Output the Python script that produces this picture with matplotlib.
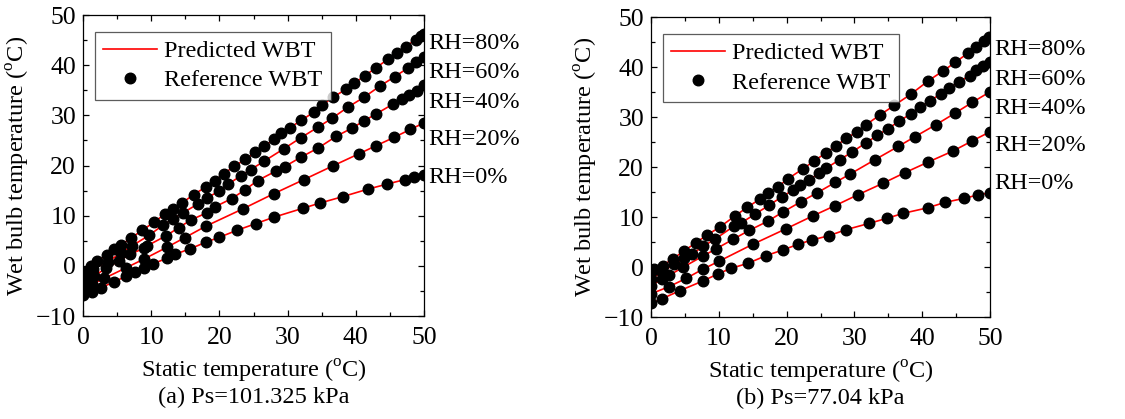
import matplotlib
matplotlib.use("Agg")
import matplotlib.pyplot as plt
from matplotlib.ticker import MultipleLocator
from matplotlib.lines import Line2D

plt.rcParams['font.family'] = ['Liberation Serif', 'DejaVu Serif']
plt.rcParams['mathtext.fontset'] = 'custom'
plt.rcParams['mathtext.rm'] = 'Liberation Serif'

# ---------------- Panel (a): Ps = 101.325 kPa ----------------
a_x80 = [0.0, 1.1, 2.0, 3.5, 4.6, 5.6, 7.1, 8.7, 10.4, 12.0, 13.2, 14.5, 16.2, 18.0, 19.3, 20.6,
         22.2, 23.8, 25.2, 26.6, 28.0, 29.1, 30.3, 32.0, 33.8, 35.1, 36.7, 38.5, 39.8, 41.3, 42.9,
         44.7, 46.1, 47.3, 48.8, 49.6, 50.0]
a_y80 = [-1.3, 0.0, 1.0, 2.1, 3.3, 4.2, 5.6, 7.1, 8.7, 10.3, 11.4, 12.5, 14.2, 15.7, 17.0, 18.3,
         19.9, 21.2, 22.6, 23.9, 25.2, 26.4, 27.5, 29.0, 30.6, 32.1, 33.6, 35.2, 36.4, 37.9, 39.4,
         41.2, 42.5, 43.7, 45.1, 45.8, 46.2]
a_x60 = [0.0, 0.7, 1.5, 3.6, 5.6, 7.2, 9.7, 11.7, 13.2, 14.7, 16.8, 18.2, 20.0, 21.3, 23.1, 24.6,
         26.6, 29.4, 31.9, 34.4, 36.5, 38.8, 41.2, 43.5, 45.7, 47.6, 48.8, 50.0]
a_y60 = [-2.2, -1.2, -0.6, 0.8, 2.6, 4.0, 6.1, 8.1, 9.4, 10.6, 12.3, 13.6, 14.9, 16.3, 17.9, 19.2,
         20.9, 23.3, 25.5, 27.6, 29.4, 31.6, 33.6, 35.8, 37.7, 39.4, 40.6, 41.7]
a_x40 = [0.0, 0.5, 1.6, 3.4, 5.3, 6.9, 8.9, 9.4, 12.2, 14.0, 15.9, 18.2, 19.4, 21.8, 23.7, 25.6,
         28.3, 29.6, 32.0, 34.5, 37.1, 39.5, 41.2, 43.0, 45.4, 46.7, 47.8, 48.9, 50.0]
a_y40 = [-3.6, -3.0, -2.0, -0.5, 1.0, 2.3, 3.5, 4.0, 6.0, 7.6, 9.2, 10.6, 11.8, 13.4, 15.1, 17.0,
         18.9, 19.8, 21.7, 23.5, 25.8, 27.5, 28.9, 30.3, 32.2, 33.3, 34.1, 34.9, 36.0]
a_x20 = [0.0, 1.3, 3.1, 6.3, 9.0, 12.3, 14.9, 18.0, 23.5, 28.0, 32.4, 36.6, 40.4, 42.9, 45.6, 48.0, 50.0]
a_y20 = [-4.6, -3.7, -2.5, -0.4, 1.4, 3.7, 5.6, 7.9, 11.4, 14.4, 17.2, 19.9, 22.3, 23.9, 25.6, 27.2, 28.5]
a_x0 = [0.0, 1.3, 2.6, 4.5, 6.3, 7.6, 9.0, 10.2, 12.3, 13.5, 15.7, 18.0, 20.0, 22.6, 25.3, 28.0,
        32.3, 34.7, 38.1, 41.8, 44.6, 47.2, 48.6, 50.0]
a_y0 = [-5.9, -5.3, -4.4, -3.2, -2.1, -1.3, -0.4, 0.4, 1.5, 2.3, 3.4, 4.7, 5.7, 7.1, 8.4, 9.7,
        11.5, 12.5, 13.8, 15.3, 16.3, 17.2, 17.7, 18.2]

# ---------------- Panel (b): Ps = 77.04 kPa ----------------
b_x80 = [0.0, 0.4, 1.7, 3.2, 4.9, 6.6, 8.3, 10.1, 12.4, 14.2, 16.0, 17.3, 18.7, 20.2, 22.4, 24.1,
         25.8, 27.3, 28.8, 30.4, 31.7, 33.8, 35.9, 38.4, 40.9, 43.1, 44.9, 46.7, 48.0, 49.1, 49.8]
b_y80 = [-0.9, -0.4, 0.3, 1.7, 3.3, 4.9, 6.5, 8.0, 10.3, 12.0, 13.6, 14.9, 16.1, 17.7, 19.7, 21.3,
         22.9, 24.3, 25.8, 27.1, 28.5, 30.5, 32.4, 34.7, 37.3, 39.3, 41.0, 42.8, 44.1, 45.3, 46.0]
b_x60 = [0.0, 1.6, 3.4, 4.9, 6.0, 7.7, 9.5, 12.2, 13.2, 15.3, 17.4, 19.3, 21.0, 22.0, 23.3, 24.8,
         25.8, 27.8, 29.6, 31.7, 33.4, 34.9, 36.6, 38.3, 39.7, 41.1, 42.8, 43.9, 45.4, 47.0, 48.0,
         49.0, 50.0]
b_y60 = [-2.3, -1.0, 0.6, 1.8, 2.6, 4.2, 5.7, 8.2, 8.8, 10.6, 12.4, 14.1, 15.5, 16.4, 17.5, 18.8,
         19.8, 21.5, 23.0, 24.9, 26.4, 27.7, 29.2, 30.7, 32.0, 33.3, 34.7, 35.8, 37.1, 38.3, 39.4,
         40.3, 41.1]
b_x40 = [0.0, 1.6, 2.7, 4.7, 7.6, 9.6, 12.1, 14.5, 17.2, 19.5, 22.1, 24.5, 27.2, 29.3, 33.0, 36.5,
         38.9, 42.0, 44.8, 47.4, 50.0]
b_y40 = [-3.7, -2.4, -1.6, 0.0, 2.2, 3.7, 5.6, 7.4, 9.2, 11.1, 13.1, 14.9, 17.0, 18.6, 21.5, 24.2,
         26.1, 28.5, 30.8, 33.0, 35.1]
b_x20 = [0.0, 2.6, 5.2, 7.6, 10.0, 15.0, 19.9, 23.9, 27.1, 30.5, 34.2, 37.4, 40.8, 44.6, 47.4, 50.0]
b_y20 = [-5.3, -3.9, -2.2, -0.4, 1.2, 4.6, 7.7, 10.3, 12.3, 14.5, 16.8, 18.9, 21.0, 23.3, 25.3, 27.1]
b_x0 = [0.0, 1.6, 4.2, 7.7, 9.9, 11.8, 14.3, 16.9, 19.5, 21.7, 23.8, 26.2, 28.7, 32.2, 34.8, 37.2,
        40.8, 43.4, 46.2, 48.3, 50.0]
b_y0 = [-7.2, -6.3, -4.7, -2.7, -1.3, -0.2, 0.8, 2.3, 3.5, 4.6, 5.5, 6.3, 7.5, 8.8, 9.8, 10.8,
        11.9, 13.0, 13.8, 14.5, 14.9]

rh_labels = ["RH=80%", "RH=60%", "RH=40%", "RH=20%", "RH=0%"]
a_label_y = [44.4, 38.5, 32.5, 25.1, 17.7]
b_label_y = [43.5, 37.5, 31.8, 24.3, 16.8]
captions = ["(a) Ps=101.325 kPa", "(b) Ps=77.04 kPa"]
legend_labels = ["Predicted WBT", "Reference WBT"]

panels = [
    ([(a_x80, a_y80), (a_x60, a_y60), (a_x40, a_y40), (a_x20, a_y20), (a_x0, a_y0)], a_label_y),
    ([(b_x80, b_y80), (b_x60, b_y60), (b_x40, b_y40), (b_x20, b_y20), (b_x0, b_y0)], b_label_y),
]

FS = 17.5
TFS = 18.5
MS = 7.6
fig = plt.figure(figsize=(11.25, 4.19), dpi=100)
axes_rects = [[0.0738, 0.2458, 0.3031, 0.7184], [0.5787, 0.2427, 0.3013, 0.7160]]

for k, ((series, label_y), rect) in enumerate(zip(panels, axes_rects)):
    ax = fig.add_axes(rect)
    for xs, ys in series:
        ax.plot(xs, ys, color='red', lw=1.2, zorder=2)
        ax.plot(xs, ys, 'o', color='black', ms=MS, mec='black', zorder=3)
    ax.set_xlim(0, 50)
    ax.set_ylim(-10, 50)
    ax.xaxis.set_major_locator(MultipleLocator(10))
    ax.xaxis.set_minor_locator(MultipleLocator(5))
    ax.yaxis.set_major_locator(MultipleLocator(10))
    ax.yaxis.set_minor_locator(MultipleLocator(5))
    ax.tick_params(which='both', direction='in', top=True, right=True, width=0.9,
                   labelsize=TFS)
    ax.tick_params(which='major', length=4.5)
    ax.tick_params(which='minor', length=2.8)
    ax.tick_params(axis='x', pad=8)
    ax.tick_params(axis='y', pad=5)
    for sp in ax.spines.values():
        sp.set_linewidth(0.9)
    ax.set_xlabel(r'Static temperature ($^{\rm o}$C)', fontsize=FS, labelpad=6)
    ax.set_ylabel(r'Wet bulb temperature ($^{\rm o}$C)', fontsize=FS, labelpad=3)
    for lab, yy in zip(rh_labels, label_y):
        ax.text(1.012, yy, lab, transform=ax.get_yaxis_transform(), fontsize=FS,
                ha='left', va='center')
    ax.text(0.5, -0.235, captions[k], transform=ax.transAxes, fontsize=FS,
            ha='center', va='top')
    handles = [Line2D([], [], color='red', lw=1.2),
               Line2D([], [], ls='none', marker='o', color='black', ms=MS)]
    leg = ax.legend(handles, legend_labels, loc='upper left', bbox_to_anchor=(0.034, 0.945),
                    fontsize=FS, frameon=True, fancybox=False, edgecolor='#333333',
                    borderpad=0.35, handlelength=2.2, handletextpad=0.3, labelspacing=0.3,
                    borderaxespad=0.0)
    leg.get_frame().set_linewidth(0.9)

fig.savefig("out.png", dpi=100)
